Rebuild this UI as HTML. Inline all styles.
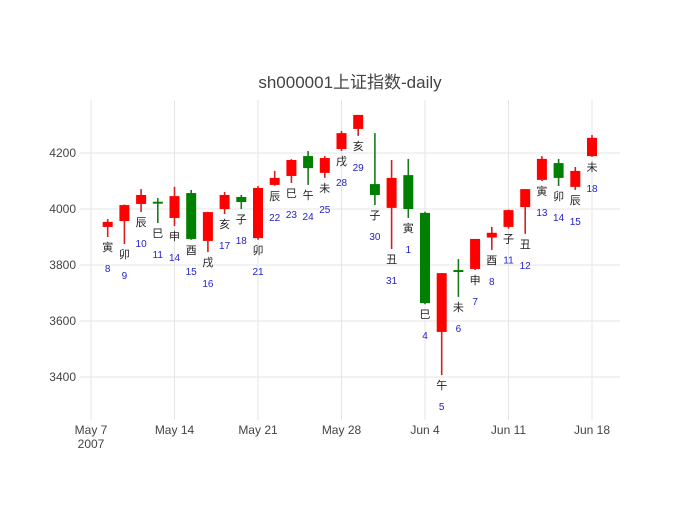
<!DOCTYPE html>
<html><head><meta charset="utf-8"><style>
body{margin:0;background:#fff}
svg text{font-family:"Liberation Sans","Noto Sans CJK SC",sans-serif}
</style></head><body>
<svg id="chart" width="700" height="500" xmlns="http://www.w3.org/2000/svg">
<rect width="700" height="500" fill="#fff"/>
<text x="350" y="88" text-anchor="middle" font-size="17" fill="#444">sh000001上证指数-daily</text>
<g id="grid"></g><g id="marks"></g><g id="labels"></g>
</svg>
<script>
const tradingIndex=[1,2,3,4,5,6,7,8,9,10,11,12,13,14,15,16,17,18,19,20,21,22,23,24,25,26,27,28,29,30];
const dayNumbers=[8,9,10,11,14,15,16,17,18,21,22,23,24,25,28,29,30,31,1,4,5,6,7,8,11,12,13,14,15,18];
const branches=["寅","卯","辰","巳","申","酉","戌","亥","子","卯","辰","巳","午","未","戌","亥","子","丑","寅","巳","午","未","申","酉","子","丑","寅","卯","辰","未"];
const opens=[3936,3957,4018,4026,3968,4057,3886,4000,4043,3896,4086,4118,4189,4129,4214,4286,4089,4004,4121,3986,3561,3782,3786,3898,3936,4007,4104,4164,4079,4189];
const highs=[3964,4016,4071,4039,4079,4068,3990,4061,4050,4082,4136,4178,4207,4189,4279,4336,4271,4175,4179,3990,3771,3821,3893,3936,3998,4071,4189,4179,4150,4264];
const lows=[3900,3875,3989,3950,3939,3890,3846,3982,4000,3890,4083,4093,4086,4111,4207,4261,4014,3857,3968,3660,3407,3686,3782,3854,3930,3911,4100,4082,4068,4186];
const closes=[3954,4014,4050,4019,4046,3893,3989,4050,4025,4075,4111,4175,4146,4182,4271,4336,4050,4111,4000,3664,3771,3775,3893,3915,3996,4071,4179,4111,4136,4254];
const yTicks=[3400,3600,3800,4000,4200];
const xTickIndex=[0,5,10,15,20,25,30];
const xTickLabels=["May 7","May 14","May 21","May 28","Jun 4","Jun 11","Jun 18"];

const NS="http://www.w3.org/2000/svg";
const L=80,R=620,T=100,B=420;
const xs=d=>91+d*16.7;
const ys=v=>209-(v-4000)*0.28;
function mk(tag,attrs,parent,txt){const e=document.createElementNS(NS,tag);for(const k in attrs)e.setAttribute(k,attrs[k]);if(txt!==undefined)e.textContent=txt;document.getElementById(parent).appendChild(e);return e;}
yTicks.forEach(v=>{
  const l=mk('line',{x1:L,x2:R,y1:ys(v),y2:ys(v),stroke:'#e5e5e5','stroke-width':1},'grid');
  
  
  const t=mk('text',{x:L-4,y:ys(v)+4,'text-anchor':'end','font-size':12,fill:'#444'},'grid',String(v));
  
  
});
xTickIndex.forEach((d,i)=>{
  const l=mk('line',{x1:xs(d),x2:xs(d),y1:T,y2:B,stroke:'#e5e5e5','stroke-width':1},'grid');
  
  
  const t=mk('text',{x:xs(d),y:434,'text-anchor':'middle','font-size':12,fill:'#444'},'grid',xTickLabels[i]);
  
  
});
const yr=mk('text',{x:xs(0),y:448,'text-anchor':'middle','font-size':12,fill:'#444'},'grid','2007');


tradingIndex.forEach((d,i)=>{
  const up=closes[i]>=opens[i];
  const col=up?'#ff0000':'#008000';
  const wcol=up?'#d62020':'#1a7a1a';
  const x=xs(d);
  const w=mk('line',{x1:x,x2:x,y1:ys(highs[i]),y2:ys(lows[i]),stroke:wcol,'stroke-width':1.6},'marks');
  
  
  const top=ys(Math.max(opens[i],closes[i])),bot=ys(Math.min(opens[i],closes[i]));
  const b=mk('rect',{x:x-5,y:top,width:10,height:Math.max(bot-top,1.5),fill:col},'marks');
  
  
  const ly=ys(lows[i]);
  const t1=mk('text',{x:x,y:ly+14,'text-anchor':'middle','font-size':11,fill:'#222'},'labels',branches[i]);
  
  
  const t2=mk('text',{x:x,y:ly+35,'text-anchor':'middle','font-size':10,fill:'#2222cc'},'labels',String(dayNumbers[i]));
  
  
});
</script>
</body></html>
